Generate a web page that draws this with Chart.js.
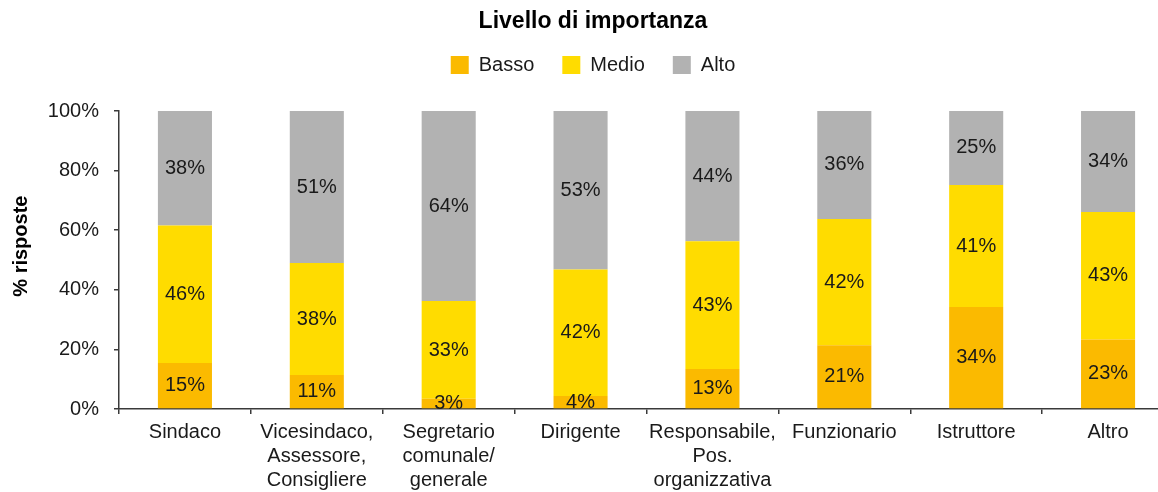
<!DOCTYPE html>
<html lang="it">
<head>
<meta charset="utf-8">
<title>Livello di importanza</title>
<script src="https://cdn.jsdelivr.net/npm/chart.js@4/dist/chart.umd.min.js"></script>
<style>
  html, body { margin: 0; padding: 0; background: #fff; overflow: hidden; }
  #wrap { width: 1186px; height: 492px; }
</style>
</head>
<body>
<div id="wrap"><canvas id="importanzaChart" width="1186" height="492"></canvas></div>
<script>
// categorie di ruolo (etichette su più righe)
const ruoli = [
    'Sindaco',
    ['Vicesindaco,', 'Assessore,', 'Consigliere'],
    ['Segretario', 'comunale/', 'generale'],
    'Dirigente',
    ['Responsabile,', 'Pos.', 'organizzativa'],
    'Funzionario',
    'Istruttore',
    'Altro'
];

// % risposte per livello di importanza
const basso = [15.4, 11.4, 3.4, 4.4, 13.4, 21.4, 34.2, 23.3];
const medio = [46.2, 37.6, 32.8, 42.4, 42.9, 42.4, 41.0, 42.8];
const alto  = [38.4, 51.0, 63.8, 53.2, 43.7, 36.2, 24.8, 33.9];

const yTicks = [0, 20, 40, 60, 80, 100];

const coloreBasso = '#FBBA00';
const coloreMedio = '#FFDC00';
const coloreAlto = '#B2B2B2';
const coloreAssi = '#3a3a3a';
const testo = '#1a1a1a';

Chart.defaults.font.family = "'Liberation Sans', Arial, sans-serif";
Chart.defaults.color = testo;

// spazio extra sotto la legenda
const legendGap = {
    id: 'legendGap',
    beforeInit(chart) {
        if (!chart.legend) return;
        const fit = chart.legend.fit;
        chart.legend.fit = function () {
            fit.call(this);
            this.height += 26;
        };
    }
};

// percentuali al centro di ogni segmento
const barLabels = {
    id: 'barLabels',
    afterDatasetsDraw(chart) {
        const ctx = chart.ctx;
        ctx.save();
        ctx.font = "20px 'Liberation Sans', Arial, sans-serif";
        ctx.fillStyle = testo;
        ctx.textAlign = 'center';
        ctx.textBaseline = 'middle';
        chart.data.datasets.forEach((ds, i) => {
            const meta = chart.getDatasetMeta(i);
            meta.data.forEach((bar, j) => {
                const v = ds.data[j];
                const y = (bar.y + bar.base) / 2;
                ctx.fillText(Math.round(v) + '%', bar.x, y);
            });
        });
        ctx.restore();
    }
};

let ctx = document.getElementById('importanzaChart').getContext('2d');

let data = {
    labels: ruoli,
    datasets: [{
        label: 'Basso',
        data: basso,
        backgroundColor: coloreBasso
    }, {
        label: 'Medio',
        data: medio,
        backgroundColor: coloreMedio
    }, {
        label: 'Alto',
        data: alto,
        backgroundColor: coloreAlto
    }]
};

let importanzaChart = new Chart(ctx, {
    type: 'bar',
    data: data,
    plugins: [legendGap, barLabels],
    options: {
        responsive: false,
        animation: false,
        devicePixelRatio: 1,
        layout: { padding: 0 },
        datasets: {
            bar: { barPercentage: 0.41, categoryPercentage: 1.0 }
        },
        plugins: {
            title: {
                display: true,
                text: 'Livello di importanza',
                color: '#000',
                font: { size: 23, weight: 'bold', lineHeight: 1 },
                padding: { top: 10, bottom: -6 }
            },
            legend: {
                display: true,
                labels: {
                    boxWidth: 18,
                    boxHeight: 18,
                    padding: 28,
                    color: testo,
                    font: { size: 20 }
                }
            },
            tooltip: { enabled: false }
        },
        scales: {
            x: {
                stacked: true,
                afterFit(scale) {
                    scale.height = 83;
                },
                grid: {
                    drawOnChartArea: false,
                    drawTicks: true,
                    tickLength: 5,
                    color: coloreAssi,
                    lineWidth: 1.5
                },
                border: { display: true, color: coloreAssi, width: 1.5 },
                ticks: {
                    autoSkip: false,
                    maxRotation: 0,
                    padding: 6,
                    color: testo,
                    font: { size: 20, lineHeight: 1.2 }
                }
            },
            y: {
                stacked: true,
                min: 0,
                max: 100,
                afterBuildTicks(scale) {
                    scale.ticks = yTicks.map(v => ({ value: v }));
                },
                afterFit(scale) {
                    scale.width = 119;
                },
                grid: {
                    drawOnChartArea: false,
                    drawTicks: true,
                    tickLength: 5,
                    color: coloreAssi,
                    lineWidth: 1.5
                },
                border: { display: true, color: coloreAssi, width: 1.5 },
                ticks: {
                    padding: 15,
                    color: testo,
                    font: { size: 20 },
                    callback: v => v + '%'
                },
                title: {
                    display: true,
                    text: '     % risposte',
                    color: '#000',
                    font: { size: 20, weight: 'bold', lineHeight: 1.2 },
                    padding: { top: 9, bottom: 6 }
                }
            },
            // margine vuoto a destra dell'area del grafico
            margineDx: {
                type: 'linear',
                position: 'right',
                display: true,
                afterFit(scale) {
                    scale.width = 12;
                },
                grid: { display: false },
                border: { display: false },
                ticks: { display: false }
            }
        }
    }
});
</script>
</body>
</html>
